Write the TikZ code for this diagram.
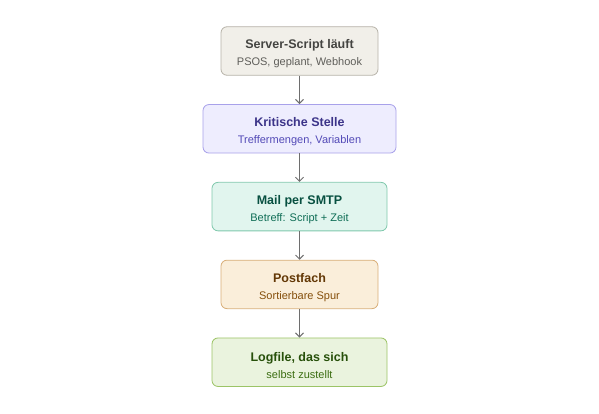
\documentclass[tikz,border=0pt]{standalone}
\usepackage{fontspec}
\setmainfont{Liberation Sans}
\usetikzlibrary{positioning,arrows.meta}

\definecolor{srvfill}{HTML}{F1EFE9}
\definecolor{srvline}{HTML}{B6B2A8}
\definecolor{srvtitle}{HTML}{444441}
\definecolor{srvsub}{HTML}{5F5E5A}
\definecolor{kritfill}{HTML}{EEEDFE}
\definecolor{kritline}{HTML}{A8A1EA}
\definecolor{krittitle}{HTML}{3C3489}
\definecolor{kritsub}{HTML}{534AB7}
\definecolor{mailfill}{HTML}{E1F5EE}
\definecolor{mailline}{HTML}{7FC8AC}
\definecolor{mailtitle}{HTML}{085041}
\definecolor{mailsub}{HTML}{0F6E56}
\definecolor{postfill}{HTML}{FAEEDA}
\definecolor{postline}{HTML}{D8AE78}
\definecolor{posttitle}{HTML}{633806}
\definecolor{postsub}{HTML}{854F0B}
\definecolor{logfill}{HTML}{EAF3DE}
\definecolor{logline}{HTML}{9CC466}
\definecolor{logtitle}{HTML}{27500A}
\definecolor{logsub}{HTML}{3B6D11}
\definecolor{arrowgray}{HTML}{6E6E6E}

\newcommand{\stagelabel}[4]{\textcolor{#3}{\fontsize{12.5}{15}\selectfont\rule{0pt}{15pt}\bfseries #1}\\[4pt]\textcolor{#4}{#2}}

\begin{document}
\begin{tikzpicture}[x=1pt,y=-1pt,node distance=28.5pt]

\tikzstyle{stage}=[rectangle,rounded corners=6pt,line width=0.8pt,minimum height=48.5pt,inner sep=0pt,align=center,font=\fontsize{11}{13}\selectfont]
\tikzstyle{flow}=[draw=arrowgray,line width=1pt,-{Straight Barb[length=4pt,width=8pt]}]

\useasboundingbox (0,0) rectangle (599,414);

\node (srv) [stage,draw=srvline,fill=srvfill,minimum width=157pt] at (299.5,51) {\stagelabel{Server-Script läuft}{PSOS, geplant, Webhook}{srvtitle}{srvsub}};
\node (krit) [stage,draw=kritline,fill=kritfill,minimum width=193pt,below=of srv] {\stagelabel{Kritische Stelle}{Treffermengen, Variablen}{krittitle}{kritsub}};
\node (mail) [stage,draw=mailline,fill=mailfill,minimum width=175pt,below=of krit] {\stagelabel{Mail per SMTP}{Betreff: Script + Zeit}{mailtitle}{mailsub}};
\node (post) [stage,draw=postline,fill=postfill,minimum width=157pt,below=of mail] {\stagelabel{Postfach}{Sortierbare Spur}{posttitle}{postsub}};
\node (log) [stage,draw=logline,fill=logfill,minimum width=175pt,below=of post] {\stagelabel{Logfile, das sich}{selbst zustellt}{logtitle}{logsub}};

\draw[flow] (srv) -- (krit);
\draw[flow] (krit) -- (mail);
\draw[flow] (mail) -- (post);
\draw[flow] (post) -- (log);
\end{tikzpicture}
\end{document}
